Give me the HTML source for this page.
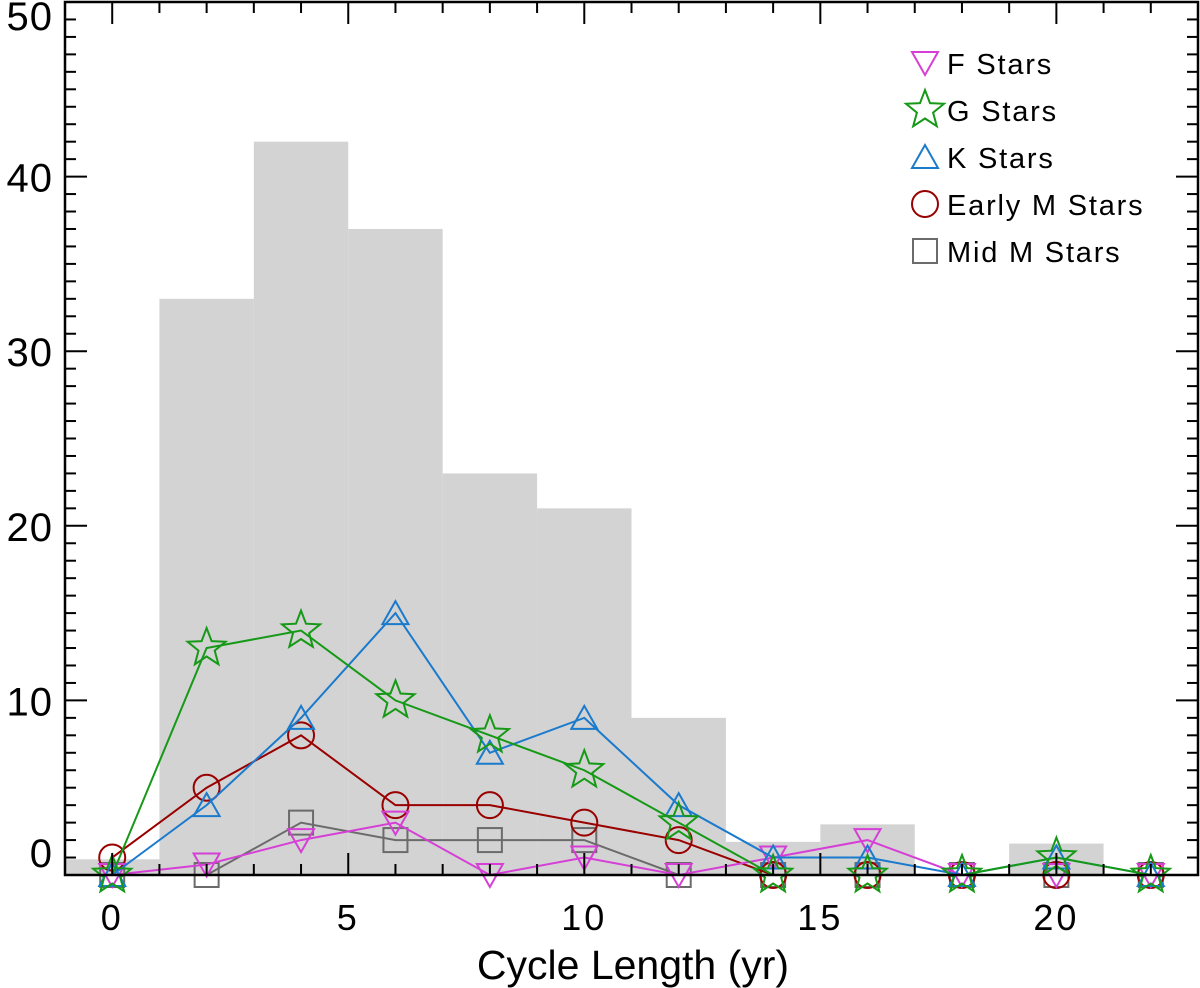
<!DOCTYPE html>
<html><head><meta charset="utf-8"><style>
html,body{margin:0;padding:0;background:#fff;}
svg{display:block;font-family:"Liberation Sans",Arial,sans-serif;}
</style></head><body>
<svg id="chart" width="1200" height="988" viewBox="0 0 1200 988" xmlns="http://www.w3.org/2000/svg"></svg>
<script>
const histBins = [0,2,4,6,8,10,12,14,16,18,20,22];
const histCounts = [0.9,33,42,37,23,21,9,1.9,2.9,0,1.8,0];
const xCats = [0,2,4,6,8,10,12,14,16,18,20,22];
const fStars = [0,0.6,2,3,0,1,0,1,2,0,0,0];
const gStars = [0,13,14,10,8,6,3,0,0,0,1,0];
const kStars = [0,4,9,15,7,9,4,1,1,0,1,0];
const earlyM = [1,5,8,4,4,3,2,0,0,0,0,0];
const midM = [0,0,3,2,2,2,0,0,0,0,0,0];
const xTicks = [0,5,10,15,20];
const yTicks = [0,10,20,30,40,50];

const NS="http://www.w3.org/2000/svg";
const svg=document.getElementById('chart');
const L=65,R=1198,T=2,B=875, XMIN=-1,XMAX=23,YMIN=0,YMAX=50;
const X=v=>L+(v-XMIN)/(XMAX-XMIN)*(R-L);
const Y=v=>B-(v-YMIN)/(YMAX-YMIN)*(B-T);
function mk(tag,attrs,parent){const e=document.createElementNS(NS,tag);for(const k in attrs)e.setAttribute(k,attrs[k]);(parent||svg).appendChild(e);return e;}

const hg=mk('g',{});


histBins.forEach((b,i)=>{
  const r=mk('rect',{x:X(b-1),y:Y(histCounts[i]),width:X(b+1)-X(b-1),height:B-Y(histCounts[i]),fill:'#d3d3d3'},hg);
  
  
});

function marker(type,cx,cy,color,g){
  let e;
  if(type==='down'){e=mk('polygon',{points:`${cx-13},${cy-11} ${cx+13},${cy-11} ${cx},${cy+12}`},g);}
  else if(type==='up'){e=mk('polygon',{points:`${cx-13},${cy+11} ${cx+13},${cy+11} ${cx},${cy-12}`},g);}
  else if(type==='circle'){e=mk('circle',{cx:cx,cy:cy,r:13},g);}
  else if(type==='square'){e=mk('rect',{x:cx-12,y:cy-12,width:24,height:24},g);}
  else {let p=[];for(let k=0;k<10;k++){const a=-Math.PI/2+k*Math.PI/5,rr=k%2?8.5:20;p.push((cx+rr*Math.cos(a)).toFixed(1)+','+(cy+rr*Math.sin(a)).toFixed(1));}e=mk('polygon',{points:p.join(' ')},g);}
  e.setAttribute('fill','none');e.setAttribute('stroke',color);e.setAttribute('stroke-width','2');
  return e;
}
const series=[
  {name:'mid-m-stars',vals:midM,color:'#6b6b6b',type:'square',label:'Mid M Stars'},
  {name:'early-m-stars',vals:earlyM,color:'#990000',type:'circle',label:'Early M Stars'},
  {name:'f-stars',vals:fStars,color:'#d63fd6',type:'down',label:'F Stars'},
  {name:'k-stars',vals:kStars,color:'#1a7acc',type:'up',label:'K Stars'},
  {name:'g-stars',vals:gStars,color:'#169916',type:'star',label:'G Stars'}
];
series.forEach(s=>{
  const g=mk('g',{});
  
  
  mk('polyline',{points:xCats.map((x,i)=>X(x)+','+Y(s.vals[i])).join(' '),fill:'none',stroke:s.color,'stroke-width':2},g);
  xCats.forEach((x,i)=>{const m=marker(s.type,X(x),Y(s.vals[i]),s.color,g);
    
    });
});

const ax=mk('g',{});


mk('rect',{x:L,y:T,width:R-L,height:B-T,fill:'none',stroke:'#000','stroke-width':2.5},ax);
for(let v=YMIN;v<=YMAX;v++){const len=(v%10===0)?22:11;const y=Y(v);
  mk('line',{x1:L,y1:y,x2:L+len,y2:y,stroke:'#000','stroke-width':2},ax);
  mk('line',{x1:R,y1:y,x2:R-len,y2:y,stroke:'#000','stroke-width':2},ax);}
for(let v=XMIN;v<=XMAX;v++){const len=(v%5===0)?22:11;const x=X(v);
  mk('line',{x1:x,y1:B,x2:x,y2:B-len,stroke:'#000','stroke-width':2},ax);
  mk('line',{x1:x,y1:T,x2:x,y2:T+len,stroke:'#000','stroke-width':2},ax);}
yTicks.forEach(v=>{const by=Math.max(30,Math.min(867,Y(v)+15));
  const t=mk('text',{x:53,y:by,'text-anchor':'end','font-size':40,'letter-spacing':1},ax);t.textContent=v;
  });
xTicks.forEach(v=>{const t=mk('text',{x:X(v),y:930,'text-anchor':'middle','font-size':36,'letter-spacing':3},ax);t.textContent=v;
  });
const xt=mk('text',{x:633,y:979,'text-anchor':'middle','font-size':41},ax);xt.textContent='Cycle Length (yr)';


const lg=mk('g',{});


const order=[2,4,3,1,0];
order.forEach((si,k)=>{const s=series[si];const cy=63+k*47;
  const eg=mk('g',{},lg);
  
  
  marker(s.type,925,cy,s.color,eg);
  const t=mk('text',{x:947,y:cy+11,'font-size':29,'letter-spacing':1.8},eg);t.textContent=s.label;});
</script>
</body></html>
